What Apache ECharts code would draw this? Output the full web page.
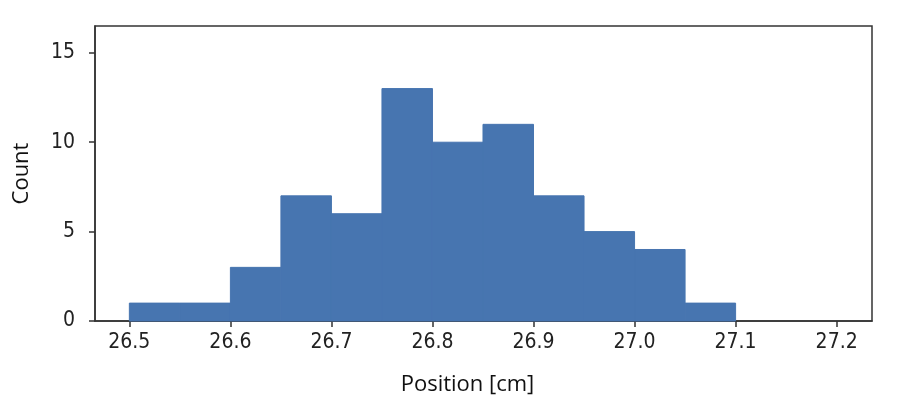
<!DOCTYPE html>
<html>
<head>
<meta charset="utf-8">
<script src="https://cdn.jsdelivr.net/npm/echarts@6/dist/echarts.min.js"></script>
<style>
  html, body { margin: 0; padding: 0; background: #fff; }
  #histChart { width: 900px; height: 408px; }
</style>
</head>
<body>
<div id="histChart"></div>
<script>
// bin edges (cm) and counts per bin
const binStarts = [26.5, 26.55, 26.6, 26.65, 26.7, 26.75, 26.8, 26.85, 26.9, 26.95, 27.0, 27.05];
const binWidth = 0.05;
const counts = [1, 1, 3, 7, 6, 13, 10, 11, 7, 5, 4, 1];
const xTicks = [26.5, 26.6, 26.7, 26.8, 26.9, 27.0, 27.1, 27.2];
const yTicks = [0, 5, 10, 15];

const chart = echarts.init(document.getElementById('histChart'));

const bars = binStarts.map((s, i) => [s, s + binWidth, counts[i]]);

const axisColor = '#333';
const tickFont = { color: '#222', fontSize: 21, fontFamily: '"DejaVu Sans Condensed", "DejaVu Sans"' };
const nameFont = { color: '#111', fontSize: 22, fontFamily: '"Open Sans"' };

chart.setOption({
    animation: false,
    grid: {
        left: 95, right: 28, top: 26, bottom: 87,
        show: true, borderColor: axisColor, borderWidth: 1.5,
        backgroundColor: '#fff'
    },
    xAxis: {
        type: 'value',
        min: 26.466, max: 27.235,
        splitLine: { show: false },
        axisLine: { lineStyle: { color: axisColor, width: 1.5 } },
        axisTick: { show: true, length: 6, customValues: xTicks, lineStyle: { color: axisColor, width: 1.5 } },
        axisLabel: Object.assign({ customValues: xTicks, margin: 11,
            formatter: v => v.toFixed(1) }, tickFont),
        name: 'Position [cm]',
        nameLocation: 'middle',
        nameGap: 53,
        nameTextStyle: Object.assign({ padding: [0, 32, 0, 0] }, nameFont)
    },
    yAxis: {
        type: 'value',
        min: 0, max: 16.5,
        splitLine: { show: false },
        axisLine: { show: true, lineStyle: { color: axisColor, width: 1.5 } },
        axisTick: { show: true, length: 6, customValues: yTicks, lineStyle: { color: axisColor, width: 1.5 } },
        axisLabel: Object.assign({ customValues: yTicks, margin: 20 }, tickFont),
        name: 'Count',
        nameLocation: 'middle',
        nameGap: 62,
        nameRotate: 90,
        nameTextStyle: nameFont
    },
    series: [{
        type: 'custom',
        data: bars,
        encode: { x: [0, 1], y: 2 },
        renderItem: (params, api) => {
            const p0 = api.coord([api.value(0), api.value(2)]);
            const p1 = api.coord([api.value(1), 0]);
            return {
                type: 'rect',
                shape: { x: p0[0], y: p0[1], width: p1[0] - p0[0], height: p1[1] - p0[1] },
                style: { fill: '#4775b0', stroke: '#4775b0', lineWidth: 1 }
            };
        }
    }]
});
</script>
</body>
</html>
